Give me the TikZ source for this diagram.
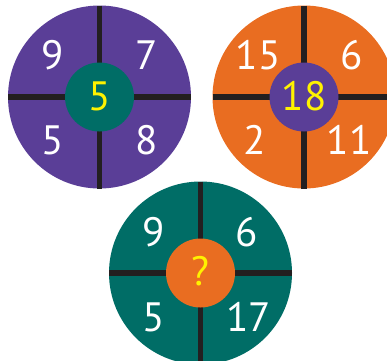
\documentclass[tikz,border=0pt]{standalone}
\usepackage{fontspec}
\setmainfont{PT Sans}[Numbers=Proportional]
\usepackage{xcolor}
\usetikzlibrary{calc}
\definecolor{grape}{HTML}{5A3E97}
\definecolor{tangerine}{HTML}{E96D21}
\definecolor{pine}{HTML}{006D66}
\definecolor{ink}{HTML}{231F20}
\definecolor{lemon}{HTML}{FFF200}

\begin{document}
\begin{tikzpicture}[
  x=1pt,y=-1pt,
  disc/.style={circle,draw=none,minimum size=183pt,inner sep=0pt,outer sep=0pt},
  hub/.style={circle,draw=none,minimum size=69pt,inner sep=0pt,outer sep=0pt},
  bar/.style={draw=ink,line width=5.5pt},
  num/.style={text=white,font=\fontsize{41}{41}\selectfont,inner sep=0pt},
  key/.style={text=lemon,font=\fontsize{41}{41}\selectfont,inner sep=0pt}
]
\clip (0,0) rectangle (387,360);

% top left wheel
\node[disc,fill=grape] (wa) at (99.5,97) {};
\draw[bar] (wa.north) -- (wa.south);
\draw[bar] (wa.west) -- (wa.east);
\node[hub,fill=pine] (ha) at (wa) {};
\node[key] (ka) at ($(ha)+(0,-1)$) {5};
\node[num] (a1) at ($(wa)+(-47,-42)$) {9};
\node[num] (a2) at ($(wa)+(47,-42)$) {7};
\node[num] (a3) at ($(wa)+(-47,43)$) {5};
\node[num] (a4) at ($(wa)+(47,43)$) {8};

% top right wheel
\node[disc,fill=tangerine] (wb) at (304,97) {};
\draw[bar] (wb.north) -- (wb.south);
\draw[bar] (wb.west) -- (wb.east);
\node[hub,fill=grape] (hb) at (wb) {};
\node[key] (kb) at ($(hb)+(0,-1)$) {18};
\node[num] (b1) at ($(wb)+(-46,-42)$) {15};
\node[num] (b2) at ($(wb)+(48,-42)$) {6};
\node[num] (b3) at ($(wb)+(-49,43)$) {2};
\node[num] (b4) at ($(wb)+(45,43)$) {11};

% bottom wheel
\node[disc,fill=pine] (wc) at (200.5,273) {};
\draw[bar] (wc.north) -- (wc.south);
\draw[bar] (wc.west) -- (wc.east);
\node[hub,fill=tangerine] (hc) at (wc) {};
\node[key] (kc) at ($(hc)+(0,-2)$) {?};
\node[num] (c1) at ($(wc)+(-47,-41)$) {9};
\node[num] (c2) at ($(wc)+(46,-41)$) {6};
\node[num] (c3) at ($(wc)+(-47,44)$) {5};
\node[num] (c4) at ($(wc)+(48,44)$) {17};
\end{tikzpicture}
\end{document}
